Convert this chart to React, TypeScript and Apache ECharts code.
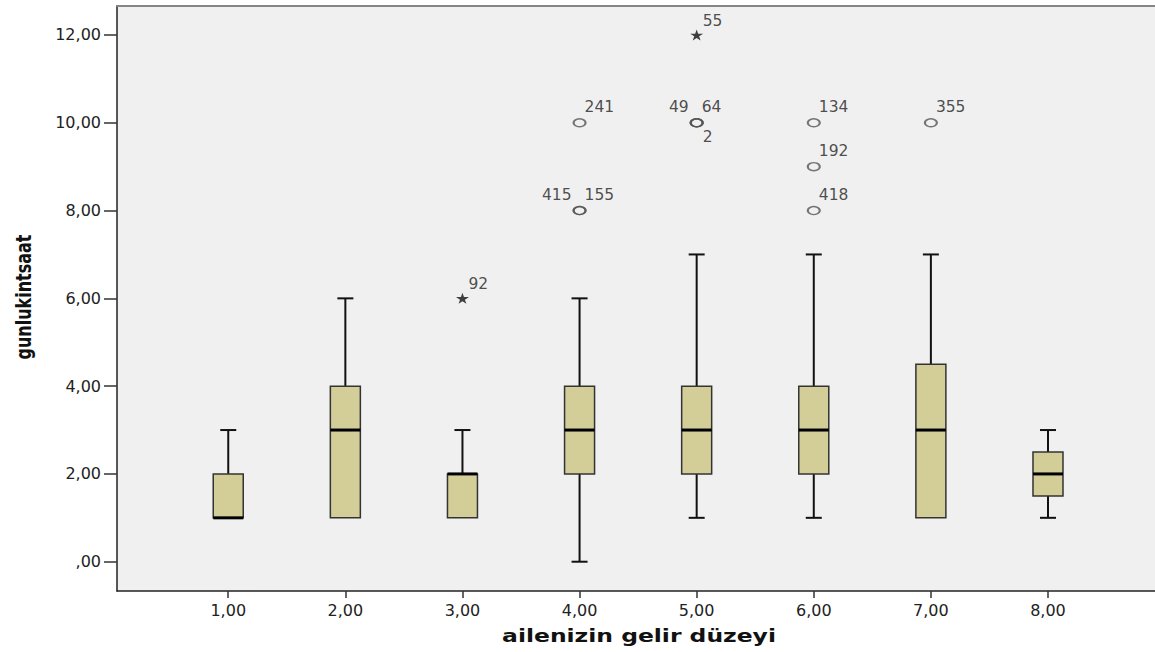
import React, { useEffect, useRef } from "react";
import * as echarts from "echarts";

// ---- data ----
const categories = [1, 2, 3, 4, 5, 6, 7, 8];
const whiskerLow = [1, 1, 1, 0, 1, 1, 1, 1];
const quartile1 = [1, 1, 1, 2, 2, 2, 1, 1.5];
const medians = [1, 3, 2, 3, 3, 3, 3, 2];
const quartile3 = [2, 4, 2, 4, 4, 4, 4.5, 2.5];
const whiskerHigh = [3, 6, 3, 6, 7, 7, 7, 3];

const outlierCategory = [3, 4, 4, 4, 5, 5, 5, 5, 6, 6, 6, 7];
const outlierValue = [6, 8, 8, 10, 10, 10, 10, 12, 8, 9, 10, 10];
const outlierId = ["92", "415", "155", "241", "49", "64", "2", "55", "418", "192", "134", "355"];
const outlierKind = ["extreme", "outlier", "outlier", "outlier", "outlier", "outlier", "outlier", "extreme", "outlier", "outlier", "outlier", "outlier"];

const yTickValues = [0, 2, 4, 6, 8, 10, 12];
const xTickValues = categories;

const xTitle = "ailenizin gelir düzeyi";
const yTitle = "gunlukintsaat";

// label placement (style only)
const labelPlacement: Record<string, string> = { "415": "left", "49": "left", "2": "below" };

const STAR = "path://M50,0 L61,35 L98,35 L68,57 L79,91 L50,70 L21,91 L32,57 L2,35 L39,35 Z";

const fmt = (v: number) => {
  const s = v.toFixed(2).replace(".", ",");
  return s.startsWith("0,") ? s.slice(1) : s;
};

const X_MIN = 0.05;
const X_MAX = 8.948;

export default function App() {
  const ref = useRef<HTMLDivElement>(null);
  useEffect(() => {
    if (!ref.current) return;
    const chart = echarts.init(ref.current, undefined, { renderer: "svg" });

    const boxData = categories.map((c, i) => [c, whiskerLow[i], quartile1[i], medians[i], quartile3[i], whiskerHigh[i]]);

    const scatterData = outlierCategory.map((c, i) => {
      const place = labelPlacement[outlierId[i]] || "right";
      const star = outlierKind[i] === "extreme";
      let offset: number[] = star ? [6, -14] : [5, -16];
      let align = "left";
      if (place === "left") { offset = [-8, -16]; align = "right"; }
      if (place === "below") { offset = [6, 14]; align = "left"; }
      return {
        value: [c, outlierValue[i]],
        symbol: star ? STAR : "circle",
        symbolSize: star ? [13, 11] : [12, 8],
        itemStyle: star
          ? { color: "#111", borderWidth: 0 }
          : { color: "rgba(0,0,0,0)", borderColor: "#555", borderWidth: 1.7 },
        label: {
          show: true,
          formatter: outlierId[i],
          position: "inside",
          offset,
          align,
          verticalAlign: "middle",
        },
      };
    });

    const renderItem = (params: any, api: any) => {
      const x = api.value(0);
      const lo = api.value(1), q1 = api.value(2), med = api.value(3), q3 = api.value(4), hi = api.value(5);
      const pLo = api.coord([x, lo]);
      const pQ1 = api.coord([x, q1]);
      const pMed = api.coord([x, med]);
      const pQ3 = api.coord([x, q3]);
      const pHi = api.coord([x, hi]);
      const cx = pLo[0];
      const hw = 15, cw = 8;
      const children: any[] = [];
      const ls = { stroke: "#111", lineWidth: 2 };
      if (hi > q3) {
        children.push({ type: "line", shape: { x1: cx, y1: pQ3[1], x2: cx, y2: pHi[1] }, style: ls });
        children.push({ type: "line", shape: { x1: cx - cw, y1: pHi[1], x2: cx + cw, y2: pHi[1] }, style: ls });
      }
      if (lo < q1) {
        children.push({ type: "line", shape: { x1: cx, y1: pQ1[1], x2: cx, y2: pLo[1] }, style: ls });
        children.push({ type: "line", shape: { x1: cx - cw, y1: pLo[1], x2: cx + cw, y2: pLo[1] }, style: ls });
      }
      children.push({
        type: "rect",
        shape: { x: cx - hw, y: pQ3[1], width: hw * 2, height: pQ1[1] - pQ3[1] },
        style: { fill: "#d3ce97", stroke: "#333", lineWidth: 1.5 },
      });
      children.push({ type: "line", shape: { x1: cx - hw, y1: pMed[1], x2: cx + hw, y2: pMed[1] }, style: { stroke: "#000", lineWidth: 3 } });
      return { type: "group", children };
    };

    chart.setOption({
      animation: false,
      backgroundColor: "#ffffff",
      grid: { left: 117, top: 6, right: -4, bottom: 61, outerBoundsMode: "none", containLabel: false, show: true, backgroundColor: "#f0f0f0", borderWidth: 0 },
      xAxis: [
        {
          type: "value",
          min: X_MIN,
          max: X_MAX,
          splitLine: { show: false },
          axisLine: { show: true, onZero: false, lineStyle: { color: "#222", width: 1.5 } },
          axisTick: { show: true, length: 7, customValues: xTickValues, lineStyle: { color: "#333", width: 1.5 } },
          axisLabel: { customValues: xTickValues, margin: 11, color: "#222", fontFamily: "DejaVu Sans", fontSize: 16, formatter: (v: number) => fmt(v) },
        },
        {
          type: "value",
          position: "top",
          min: X_MIN,
          max: X_MAX,
          splitLine: { show: false },
          axisLine: { show: true, onZero: false, lineStyle: { color: "#858585", width: 2 } },
          axisTick: { show: false },
          axisLabel: { show: false },
        },
      ],
      yAxis: {
        type: "value",
        min: -0.667,
        max: 12.66,
        splitLine: { show: false },
        axisLine: { show: true, onZero: false, lineStyle: { color: "#222", width: 1.5 } },
        axisTick: { show: true, length: 13, customValues: yTickValues, lineStyle: { color: "#333", width: 1.5 } },
        axisLabel: { customValues: yTickValues, margin: 16, color: "#222", fontFamily: "DejaVu Sans", fontSize: 16, formatter: (v: number) => fmt(v) },
      },
      graphic: [
        {
          type: "text",
          x: 639,
          y: 636,
          scaleX: 1.38,
          style: { text: xTitle, font: "bold 17px 'DejaVu Sans'", fill: "#111", align: "center", verticalAlign: "middle", textAlign: "center", textVerticalAlign: "middle" },
        },
        {
          type: "text",
          x: 23,
          y: 297,
          rotation: Math.PI / 2,
          scaleY: 1.35,
          style: { text: yTitle, font: "bold 16px 'DejaVu Sans'", fill: "#111", align: "center", verticalAlign: "middle", textAlign: "center", textVerticalAlign: "middle" },
        },
      ],
      series: [
        {
          type: "custom",
          renderItem,
          xAxisIndex: 0,
          encode: { x: 0, y: [1, 2, 3, 4, 5] },
          data: boxData,
          z: 2,
        },
        {
          type: "scatter",
          xAxisIndex: 0,
          data: scatterData,
          z: 3,
          label: { fontFamily: "DejaVu Sans", fontSize: 15.5, color: "#222" },
        },
      ],
    });
    return () => chart.dispose();
  }, []);
  return <div ref={ref} style={{ position: "absolute", left: 0, top: 0, width: 1155, height: 652 }} />;
}
